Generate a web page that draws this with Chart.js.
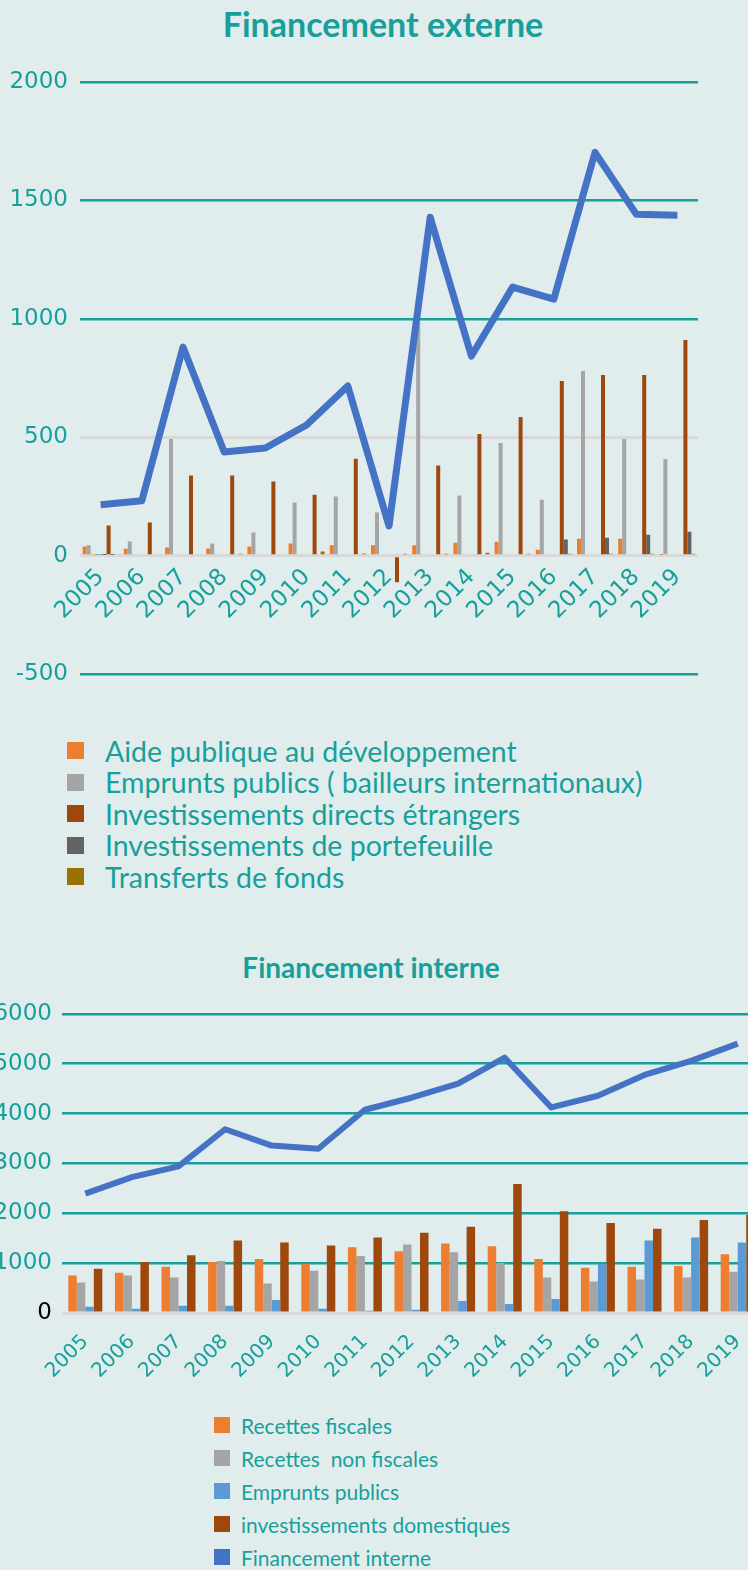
<!DOCTYPE html>
<html>
<head>
<meta charset="utf-8">
<script src="https://cdn.jsdelivr.net/npm/chart.js@4.4.0/dist/chart.umd.min.js"></script>
<style>
  html, body { margin: 0; padding: 0; }
  body {
    width: 748px; height: 1570px; position: relative; overflow: hidden;
    background: #e1eded; font-family: Lato, sans-serif; color: #17a09b;
  }
  .title { position: absolute; left: 0; width: 766px; text-align: center; font-weight: 700; line-height: 1.2; }
  canvas { position: absolute; }
  .legend-item { position: absolute; display: flex; align-items: center; white-space: pre; }
  .legend-item span.sw { display: inline-block; flex: none; }
</style>
</head>
<body>
<div class="title" style="top:4px; font-size:34px;">Financement externe</div>
<canvas id="ext" width="748" height="700" style="left:0; top:0;"></canvas>
<div id="extLegend"></div>

<div class="title" style="top:951px; font-size:28px; width:742px;">Financement interne</div>
<canvas id="int" width="800" height="400" style="left:-20px; top:990px;"></canvas>
<div id="intLegend"></div>

<script>
const years = ['2005', '2006', '2007', '2008', '2009', '2010', '2011', '2012', '2013', '2014', '2015', '2016', '2017', '2018', '2019'];

// Financement externe (top chart)
const aidePublique = [39, 30, 35, 31, 39, 52, 44, 44, 44, 55, 59, 25, 72, 72, 3];
const empruntsExternes = [44, 60, 493, 52, 98, 225, 250, 183, 985, 254, 476, 236, 780, 493, 409];
const ide = [128, 140, 339, 339, 313, 258, 410, -112, 381, 514, 586, 738, 763, 763, 911];
const portefeuille = [3, 0, 0, 0, 0, 0, 0, 0, 0, 0, 0, 69, 76, 89, 101];
const transferts = [6, 0, 6, 8, 6, 18, 10, 8, 8, 13, 8, 8, 8, 8, 8];
// unused series of the workbook, they only show a sliver in 2005
const serieVide1 = [3, 0, 0, 0, 0, 0, 0, 0, 0, 0, 0, 0, 0, 0, 0];
const serieVide2 = [3, 0, 0, 0, 0, 0, 0, 0, 0, 0, 0, 0, 0, 0, 0];
const serieVide3 = [3, 0, 0, 0, 0, 0, 0, 0, 0, 0, 0, 0, 0, 0, 0];
const serieVide4 = [3, 0, 0, 0, 0, 0, 0, 0, 0, 0, 0, 0, 0, 0, 0];
const financementExterne = [215, 232, 881, 438, 455, 552, 717, 126, 1429, 843, 1134, 1083, 1703, 1442, 1437];

// Financement interne (bottom chart)
const recettesFiscales = [750, 808, 926, 1023, 1082, 984, 1317, 1239, 1396, 1337, 1082, 906, 926, 945, 1180];
const recettesNonFiscales = [612, 750, 710, 1043, 593, 847, 1141, 1376, 1219, 1004, 710, 632, 671, 710, 828];
const empruntsPublics = [123, 84, 143, 143, 260, 84, 45, 65, 240, 182, 280, 990, 1454, 1513, 1415];
const investDomestiques = [886, 1023, 1160, 1454, 1415, 1356, 1513, 1611, 1728, 2589, 2041, 1806, 1689, 1865, 1963];
const financementInterne = [2393, 2724, 2941, 3685, 3358, 3294, 4076, 4317, 4599, 5120, 4122, 4357, 4775, 5055, 5401];

const TEAL = '#17a09b';
const GRAY_LINE = '#d9d9d9';
const BLUE = '#4472c4';
const tickFont = (size) => ({ family: 'DejaVu Sans', size: size });

let bar = (label, data, color, pct) => ({
    type: 'bar', label: label, data: data, backgroundColor: color,
    order: 1, categoryPercentage: pct, barPercentage: 1
});

let line = (label, data, width) => ({
    type: 'line', label: label, data: data, borderColor: BLUE, backgroundColor: BLUE,
    borderWidth: width, pointRadius: 0, tension: 0, order: 0, borderJoinStyle: 'round'
});

// Top chart
const extDatasets = [
    line('Financement externe', financementExterne, 7),
    bar('Aide publique au développement', aidePublique, '#ed7d31', 0.874),
    bar('Emprunts publics ( bailleurs internationaux)', empruntsExternes, '#a5a5a5', 0.874),
    bar('', serieVide1, '#ffc000', 0.874),
    bar('', serieVide2, '#5b9bd5', 0.874),
    bar('', serieVide3, '#70ad47', 0.874),
    bar('', serieVide4, '#264478', 0.874),
    bar('Investissements directs étrangers', ide, '#9e480e', 0.874),
    bar('Investissements de portefeuille', portefeuille, '#636363', 0.874),
    bar('Transferts de fonds', transferts, '#997300', 0.874)
];

new Chart(document.getElementById('ext'), {
    type: 'bar',
    data: { labels: years, datasets: extDatasets },
    options: {
        responsive: false,
        animation: false,
        layout: { padding: { top: 82, bottom: 25, left: 0, right: 50 } },
        plugins: { legend: { display: false }, tooltip: { enabled: false } },
        scales: {
            x: {
                position: { y: 0 },
                grid: { display: false, drawTicks: false },
                border: { display: false },
                ticks: { color: TEAL, font: tickFont(23), minRotation: 45, maxRotation: 45, padding: 8, autoSkip: false },
                afterFit: (s) => { s.height = 0; }
            },
            y: {
                min: -500, max: 2000,
                grid: {
                    drawTicks: false,
                    color: (c) => (c.tick.value === 0 || c.tick.value === 500) ? GRAY_LINE : TEAL,
                    lineWidth: (c) => (c.tick.value === 0 || c.tick.value === 500) ? 3 : 2.5
                },
                border: { display: false },
                ticks: { stepSize: 500, color: TEAL, font: tickFont(23), padding: 12, callback: (v) => String(v) },
                afterFit: (s) => { s.width = 80; }
            }
        }
    }
});

// Bottom chart
const intDatasets = [
    line('Financement interne', financementInterne, 6),
    bar('Recettes fiscales', recettesFiscales, '#ed7d31', 0.73),
    bar('Recettes  non fiscales', recettesNonFiscales, '#a5a5a5', 0.73),
    bar('Emprunts publics', empruntsPublics, '#5b9bd5', 0.73),
    bar('investissements domestiques', investDomestiques, '#9e480e', 0.73)
];

new Chart(document.getElementById('int'), {
    type: 'bar',
    data: { labels: years, datasets: intDatasets },
    options: {
        responsive: false,
        animation: false,
        layout: { padding: { top: 17, bottom: 77, left: 0, right: 19 } },
        plugins: { legend: { display: false }, tooltip: { enabled: false } },
        scales: {
            x: {
                position: { y: 0 },
                grid: { display: false, drawTicks: false },
                border: { display: false },
                ticks: { color: TEAL, font: tickFont(20), minRotation: 45, maxRotation: 45, padding: 17, autoSkip: false },
                afterFit: (s) => { s.height = 0; }
            },
            y: {
                min: 0, max: 6000,
                grid: {
                    drawTicks: false,
                    color: (c) => c.tick.value === 0 ? GRAY_LINE : TEAL,
                    lineWidth: (c) => c.tick.value === 0 ? 3 : 2.5
                },
                border: { display: false },
                ticks: {
                    stepSize: 1000, font: tickFont(23), padding: 10, callback: (v) => String(v),
                    color: (c) => c.tick.value === 0 ? '#000000' : TEAL
                },
                afterFit: (s) => { s.width = 82; }
            }
        }
    }
});

// HTML legends, built from the datasets
let buildLegend = (holder, datasets, x, y0, step, sq, textX, fontSize) => {
    datasets.forEach((ds, i) => {
        let item = document.createElement('div');
        item.className = 'legend-item';
        item.style.left = x + 'px';
        item.style.top = (y0 + i * step - step / 2) + 'px';
        item.style.height = step + 'px';
        item.style.fontSize = fontSize + 'px';
        let sw = document.createElement('span');
        sw.className = 'sw';
        sw.style.width = sq + 'px';
        sw.style.height = sq + 'px';
        sw.style.background = ds.backgroundColor;
        sw.style.marginRight = (textX - x - sq) + 'px';
        item.appendChild(sw);
        item.appendChild(document.createTextNode(ds.label));
        holder.appendChild(item);
    });
};

let extLegendItems = extDatasets.filter(d => d.type === 'bar' && d.label !== '');
buildLegend(document.getElementById('extLegend'), extLegendItems, 67, 751, 31.4, 17, 105, 28.5);

let intLegendItems = intDatasets.slice(1).concat([intDatasets[0]]);
buildLegend(document.getElementById('intLegend'), intLegendItems, 214, 1425.5, 32.9, 16, 241, 21);
</script>
</body>
</html>
